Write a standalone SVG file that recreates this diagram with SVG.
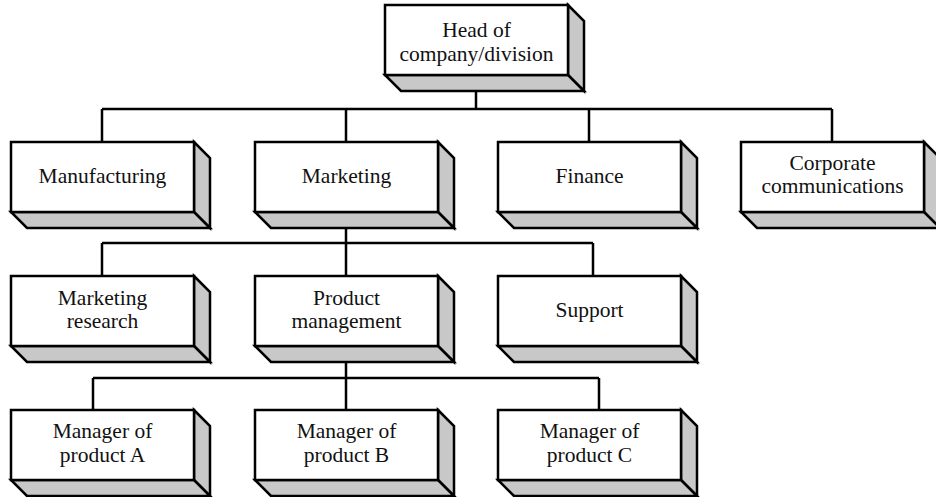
<svg xmlns="http://www.w3.org/2000/svg" xmlns:xlink="http://www.w3.org/1999/xlink" width="936" height="497" viewBox="0 0 936 497">
<style>
.face{fill:#c8c8c8;stroke:#000;stroke-width:2.5;stroke-linejoin:miter}
.front{fill:#fff;stroke:#000;stroke-width:2.5}
.lbl{font-family:"Liberation Serif","Times New Roman",serif;font-size:21.5px;fill:#111;text-anchor:middle}
.conn{fill:none;stroke:#000;stroke-width:2.5}
</style>
<defs>
<g id="box">
<polygon class="face" points="183,0 199,16 199,86 183,70"/>
<polygon class="face" points="0,70 183,70 199,86 16,86"/>
<rect class="front" x="0" y="0" width="183" height="70"/>
</g>
</defs>
<rect width="936" height="497" fill="#fff"/>
<g id="connectors">
<path class="conn" d="M476,76V109M102,109H832M102,109V142M346,109V142M589,109V142M832,109V142"/>
<path class="conn" d="M346,212V243M102,243H593M102,243V276M346,243V276M593,243V276"/>
<path class="conn" d="M346,346V378M93,378H599M93,378V410M346,378V410M599,378V410"/>
</g>
<g id="head" transform="translate(385,5)"><use xlink:href="#box"/><text class="lbl" x="91.5" y="32">Head of</text><text class="lbl" x="91.5" y="56">company/division</text></g>
<g id="manufacturing" transform="translate(11,142)"><use xlink:href="#box"/><text class="lbl" x="91.5" y="41">Manufacturing</text></g>
<g id="marketing" transform="translate(255,142)"><use xlink:href="#box"/><text class="lbl" x="91.5" y="41">Marketing</text></g>
<g id="finance" transform="translate(498,142)"><use xlink:href="#box"/><text class="lbl" x="91.5" y="41">Finance</text></g>
<g id="corporate" transform="translate(741,142)"><use xlink:href="#box"/><text class="lbl" x="91.5" y="28">Corporate</text><text class="lbl" x="91.5" y="51">communications</text></g>
<g id="marketing-research" transform="translate(11,276)"><use xlink:href="#box"/><text class="lbl" x="91.5" y="29">Marketing</text><text class="lbl" x="91.5" y="52">research</text></g>
<g id="product-management" transform="translate(255,276)"><use xlink:href="#box"/><text class="lbl" x="91.5" y="29">Product</text><text class="lbl" x="91.5" y="52">management</text></g>
<g id="support" transform="translate(498,276)"><use xlink:href="#box"/><text class="lbl" x="91.5" y="41">Support</text></g>
<g id="manager-a" transform="translate(11,410)"><use xlink:href="#box"/><text class="lbl" x="91.5" y="28">Manager of</text><text class="lbl" x="91.5" y="52">product A</text></g>
<g id="manager-b" transform="translate(255,410)"><use xlink:href="#box"/><text class="lbl" x="91.5" y="28">Manager of</text><text class="lbl" x="91.5" y="52">product B</text></g>
<g id="manager-c" transform="translate(498,410)"><use xlink:href="#box"/><text class="lbl" x="91.5" y="28">Manager of</text><text class="lbl" x="91.5" y="52">product C</text></g>
</svg>
